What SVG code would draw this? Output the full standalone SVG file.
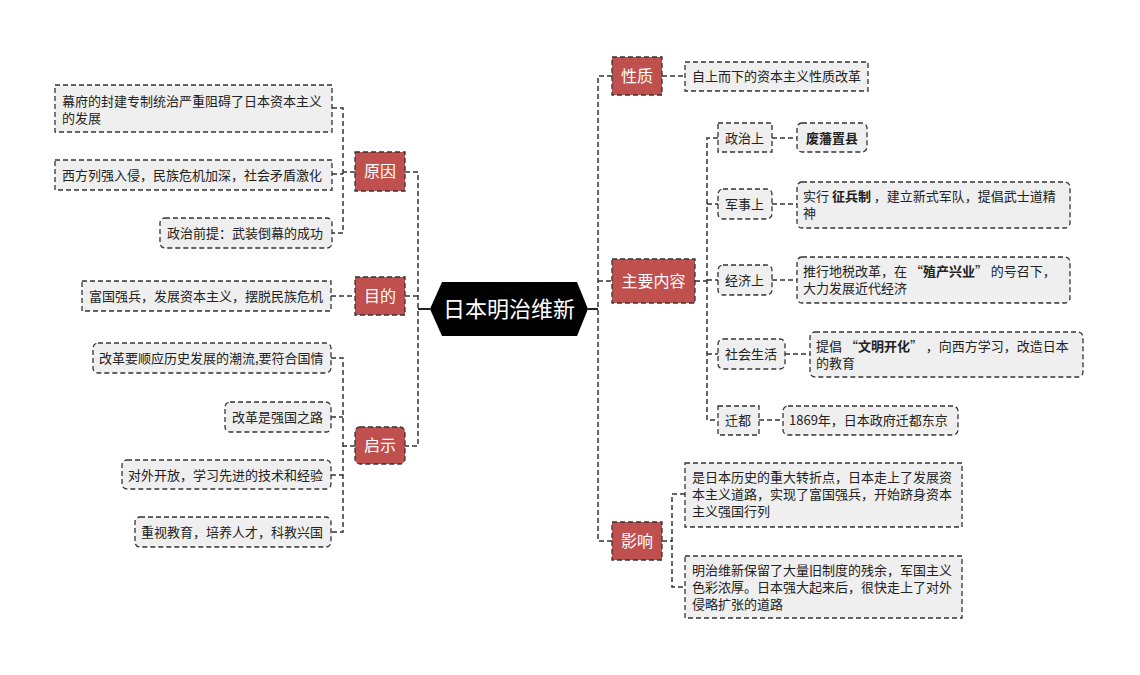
<svg xmlns="http://www.w3.org/2000/svg" width="1140" height="675" viewBox="0 0 1140 675">
<style>
text{font-family:"Noto Sans CJK SC","Noto Sans",sans-serif;}
.conn{fill:none;stroke:#333;stroke-width:1.5;stroke-dasharray:5 3;}
.solid{fill:none;stroke:#222;stroke-width:2;}
.cat rect{fill:#C0504D;stroke:#333;stroke-width:1.3;stroke-dasharray:5 3;}
.cat text{fill:#fff;font-size:16px;text-anchor:middle;}
.leaf rect{fill:#EFEFEF;stroke:#333;stroke-width:1.3;stroke-dasharray:5 3;}
.leaf text{fill:#222;font-size:13px;}
.b{font-weight:bold;}
</style>
<rect width="1140" height="675" fill="#fff"/>
<g id="connectors">
<path class="solid" d="M418 309H430M588 309H598"/>
<path class="conn" d="M405 172H418V446H405M405 296H418"/>
<path class="conn" d="M355 172H343M332 108H343V233H332M332 174H343"/>
<path class="conn" d="M331 296H355"/>
<path class="conn" d="M355 446H343M331 358H343V532H331M331 417H343M331 475H343"/>
<path class="conn" d="M612 76H598V541H612M598 281H612"/>
<path class="conn" d="M662 76H685"/>
<path class="conn" d="M695 281H707M718 138H707V420H718M707 204H718M707 280H718M707 354H718"/>
<path class="conn" d="M772 138H797M772 204H797M772 280H797M785 354H810M759 420H783"/>
<path class="conn" d="M662 541H672M685 494H672V587H685"/>
</g>
<g id="center">
<polygon points="430,309 442,282 577,282 588,309 577,336 442,336" fill="#000"/>
<text x="509" y="317" fill="#fff" font-size="22" text-anchor="middle">日本明治维新</text>
</g>
<g id="yuanyin" class="cat"><rect x="355" y="152" width="50" height="39"/><text x="380" y="177">原因</text></g>
<g id="mudi" class="cat"><rect x="355" y="277" width="50" height="38"/><text x="380" y="302">目的</text></g>
<g id="qishi" class="cat"><rect x="355" y="427" width="50" height="37" rx="5"/><text x="380" y="451">启示</text></g>
<g id="xingzhi" class="cat"><rect x="612" y="57" width="50" height="38"/><text x="637" y="82">性质</text></g>
<g id="zhuyao" class="cat"><rect x="612" y="259" width="83" height="44"/><text x="653.5" y="287">主要内容</text></g>
<g id="yingxiang" class="cat"><rect x="612" y="522" width="50" height="38"/><text x="637" y="547">影响</text></g>
<g id="yy1" class="leaf"><rect x="55" y="85" width="277" height="47"/><text x="62" y="106">幕府的封建专制统治严重阻碍了日本资本主义</text><text x="62" y="123">的发展</text></g>
<g id="yy2" class="leaf"><rect x="55" y="160" width="277" height="30"/><text x="62" y="180">西方列强入侵，民族危机加深，社会矛盾激化</text></g>
<g id="yy3" class="leaf"><rect x="160" y="218" width="172" height="30" rx="5"/><text x="167" y="238">政治前提：武装倒幕的成功</text></g>
<g id="md1" class="leaf"><rect x="82" y="281" width="249" height="30"/><text x="89" y="301">富国强兵，发展资本主义，摆脱民族危机</text></g>
<g id="qs1" class="leaf"><rect x="93" y="343" width="238" height="30" rx="5"/><text x="99" y="363">改革要顺应历史发展的潮流,要符合国情</text></g>
<g id="qs2" class="leaf"><rect x="225" y="402" width="106" height="30" rx="5"/><text x="232" y="422">改革是强国之路</text></g>
<g id="qs3" class="leaf"><rect x="122" y="460" width="209" height="29" rx="5"/><text x="128" y="480">对外开放，学习先进的技术和经验</text></g>
<g id="qs4" class="leaf"><rect x="135" y="517" width="196" height="30" rx="5"/><text x="141" y="537">重视教育，培养人才，科教兴国</text></g>
<g id="xz1" class="leaf"><rect x="685" y="62" width="183" height="29"/><text x="692" y="81">自上而下的资本主义性质改革</text></g>
<g id="zz" class="leaf"><rect x="718" y="123" width="54" height="29"/><text x="725" y="143">政治上</text></g>
<g id="zz1" class="leaf"><rect x="797" y="123" width="70" height="29" rx="5"/><text x="806" y="143" class="b">废藩置县</text></g>
<g id="js" class="leaf"><rect x="718" y="189" width="54" height="30" rx="5"/><text x="725" y="209">军事上</text></g>
<g id="js1" class="leaf"><rect x="797" y="182" width="273" height="46" rx="5"/><text x="803" y="201">实行 <tspan class="b">征兵制</tspan> ，建立新式军队，提倡武士道精</text><text x="803" y="218">神</text></g>
<g id="jj" class="leaf"><rect x="718" y="265" width="54" height="30" rx="5"/><text x="725" y="285">经济上</text></g>
<g id="jj1" class="leaf"><rect x="797" y="257" width="273" height="46" rx="5"/><text x="803" y="276">推行地税改革，在 “<tspan class="b">殖产兴业</tspan>” 的号召下，</text><text x="803" y="293">大力发展近代经济</text></g>
<g id="sh" class="leaf"><rect x="718" y="339" width="67" height="30" rx="5"/><text x="725" y="359">社会生活</text></g>
<g id="sh1" class="leaf"><rect x="810" y="332" width="273" height="45" rx="5"/><text x="816" y="351">提倡 “<tspan class="b">文明开化</tspan>” ，向西方学习，改造日本</text><text x="816" y="368">的教育</text></g>
<g id="qd" class="leaf"><rect x="718" y="406" width="41" height="29"/><text x="725" y="425">迁都</text></g>
<g id="qd1" class="leaf"><rect x="783" y="406" width="175" height="29" rx="5"/><text x="789" y="425">1869年，日本政府迁都东京</text></g>
<g id="yx1" class="leaf"><rect x="685" y="463" width="277" height="64"/><text x="692" y="482">是日本历史的重大转折点，日本走上了发展资</text><text x="692" y="499">本主义道路，实现了富国强兵，开始跻身资本</text><text x="692" y="516">主义强国行列</text></g>
<g id="yx2" class="leaf"><rect x="685" y="556" width="277" height="62"/><text x="692" y="575">明治维新保留了大量旧制度的残余，军国主义</text><text x="692" y="592">色彩浓厚。日本强大起来后，很快走上了对外</text><text x="692" y="609">侵略扩张的道路</text></g>
</svg>
